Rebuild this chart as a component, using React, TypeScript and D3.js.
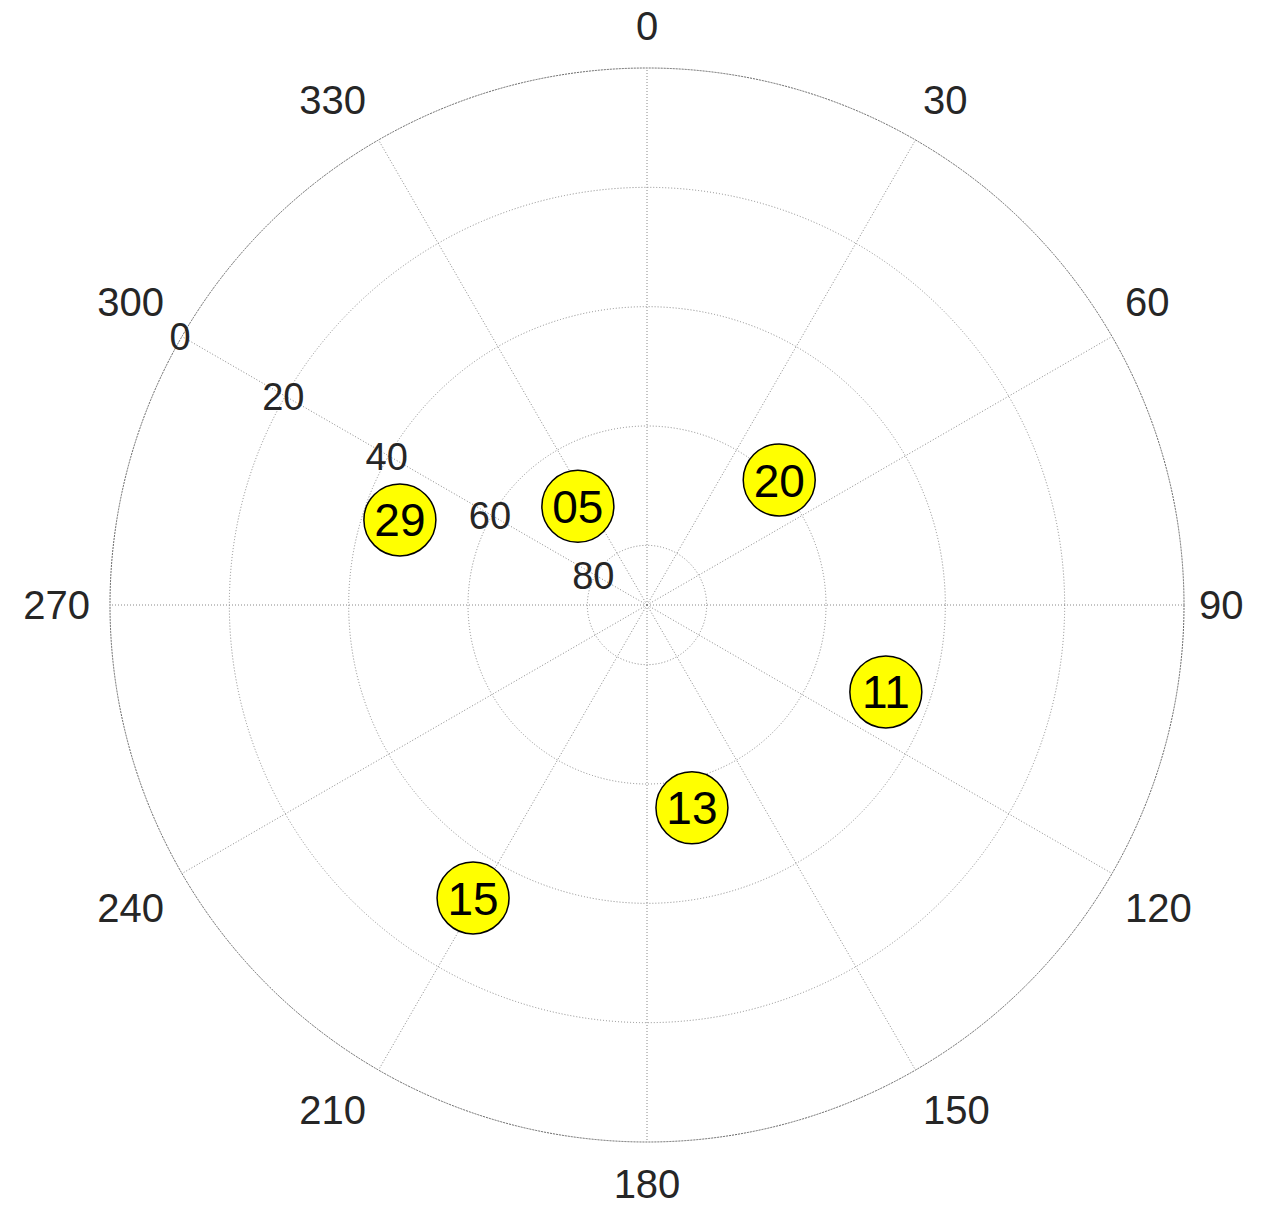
import React, { useRef, useEffect } from 'react';
import * as d3 from 'd3';

const satIds = ['29', '05', '20', '11', '13', '15'];
const azimuths = [289, 325, 46.6, 110, 167.5, 210.7];
const elevations = [46.2, 69.8, 59.5, 47.4, 55.2, 32.9];
const azTicks = [0, 30, 60, 90, 120, 150, 180, 210, 240, 270, 300, 330];
const elTicks = [0, 20, 40, 60, 80];

const App = () => {
  const svgRef = useRef<SVGSVGElement>(null);

  useEffect(() => {
    document.body.style.margin = '0';
    const svg = d3.select(svgRef.current);
    svg.selectAll('*').remove();

    const width = 1261;
    const height = 1222;
    const cx = 647;
    const cy = 605;
    const R = 537;
    const labelR = 552;
    const font = 'Arial, "Liberation Sans", sans-serif';

    svg.attr('width', width).attr('height', height);
    svg.append('rect').attr('width', width).attr('height', height).attr('fill', '#fff');

    const g = svg.append('g').attr('transform', `translate(${cx},${cy})`);

    // elevation 90 at centre, 0 at the rim
    const r = d3.scaleLinear().domain([90, 0]).range([0, R]);
    const toXY = (az: number, rad: number): [number, number] => {
      const a = (az * Math.PI) / 180;
      return [rad * Math.sin(a), -rad * Math.cos(a)];
    };
    const sgn = (v: number) => (Math.abs(v) < 1e-6 ? 0 : Math.sign(v));

    // rings
    g.selectAll('.ring')
      .data(elTicks)
      .join('circle')
      .attr('class', 'ring')
      .attr('r', d => r(d))
      .attr('fill', 'none')
      .attr('stroke', d => (d === 0 ? '#666' : '#888'))
      .attr('stroke-width', 1)
      .attr('stroke-dasharray', d => (d === 0 ? '2,1' : '1,2'));

    // spokes
    g.selectAll('.spoke')
      .data(azTicks)
      .join('line')
      .attr('class', 'spoke')
      .attr('x1', 0)
      .attr('y1', 0)
      .attr('x2', d => toXY(d, R)[0])
      .attr('y2', d => toXY(d, R)[1])
      .attr('stroke', '#888')
      .attr('stroke-width', 1)
      .attr('stroke-dasharray', '1,2');

    // azimuth labels, box corner sitting on a circle just outside the rim
    g.selectAll('.az-label')
      .data(azTicks)
      .join('text')
      .attr('class', 'az-label')
      .attr('x', d => {
        const [x] = toXY(d, labelR);
        const s = sgn(Math.sin((d * Math.PI) / 180));
        return s > 0 ? x : s < 0 ? x - 5 : x;
      })
      .attr('y', d => {
        const [, y] = toXY(d, labelR);
        const c = sgn(Math.cos((d * Math.PI) / 180));
        return y - c * 27;
      })
      .attr('dy', '0.36em')
      .attr('text-anchor', d => {
        const s = sgn(Math.sin((d * Math.PI) / 180));
        return s > 0 ? 'start' : s < 0 ? 'end' : 'middle';
      })
      .style('font-family', font)
      .style('font-size', '40px')
      .style('fill', '#262626')
      .text(d => d);

    // elevation labels along the 300 spoke
    g.selectAll('.el-label')
      .data(elTicks)
      .join('text')
      .attr('class', 'el-label')
      .attr('x', d => toXY(300, r(d))[0] - 2)
      .attr('y', d => toXY(300, r(d))[1])
      .attr('dy', '0.36em')
      .attr('text-anchor', 'middle')
      .style('font-family', font)
      .style('font-size', '38px')
      .style('fill', '#262626')
      .text(d => d);

    // satellites
    const sats = satIds.map((id, i) => ({ id, az: azimuths[i], el: elevations[i] }));
    const sg = g.selectAll('.sat')
      .data(sats)
      .join('g')
      .attr('class', 'sat')
      .attr('transform', d => {
        const [x, y] = toXY(d.az, r(d.el));
        return `translate(${x},${y})`;
      });

    sg.append('circle')
      .attr('r', 36)
      .attr('fill', '#ffff00')
      .attr('stroke', '#000')
      .attr('stroke-width', 1.5);

    sg.append('text')
      .attr('dy', '0.36em')
      .attr('text-anchor', 'middle')
      .style('font-family', font)
      .style('font-size', '46px')
      .style('fill', '#000')
      .text(d => d.id);
  }, []);

  return (
    <div style={{ position: 'absolute', left: 0, top: 0 }}>
      <svg ref={svgRef} style={{ display: 'block' }}></svg>
    </div>
  );
};

export default App;
